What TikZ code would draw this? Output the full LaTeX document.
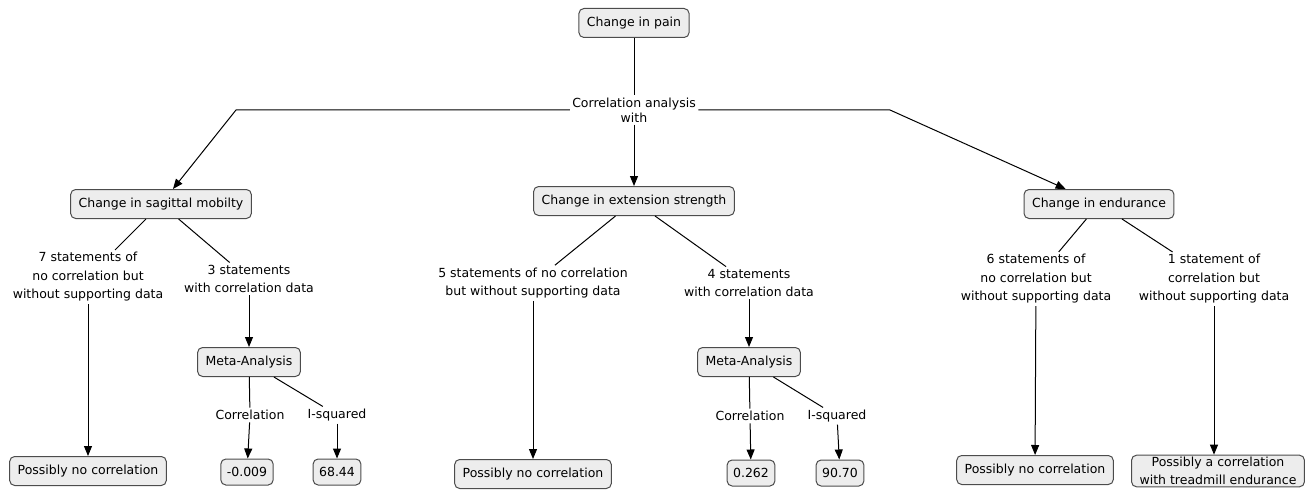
\documentclass[tikz,border=0pt]{standalone}
\usepackage{fontspec}
\setmainfont{DejaVu Sans}
\usetikzlibrary{arrows.meta}

\begin{document}
\begin{tikzpicture}[x=1pt,y=-1pt,line width=1pt,
	>={Triangle[length=10pt,width=8pt]},
	box/.style={draw=black!70,fill=black!7,rounded corners=5pt,inner xsep=8pt,minimum height=29pt,font=\fontsize{12.5}{18}\selectfont},
	lab/.style={align=center,inner sep=2pt,font=\fontsize{12.5}{18.5}\selectfont}]
	\useasboundingbox (0,0) rectangle (1314,492);
	% top of the map
	\node[box] (pain) at (634,23) {Change in pain};
	\node[lab,font=\fontsize{12.5}{15}\selectfont] (corr) at (634,110) {Correlation analysis\\with};
	\coordinate (bendL) at (236,110);
	\coordinate (bendR) at (890,110);
	% second level
	\node[box] (sag) at (161,204) {Change in sagittal mobilty};
	\node[box] (ext) at (634,201) {Change in extension strength};
	\node[box] (endu) at (1099,204) {Change in endurance};
	% statements
	\node[lab] (lab7) at (88,277) {7 statements of\\no correlation but\\without supporting data};
	\node[lab] (lab3) at (249,279) {3 statements\\with correlation data};
	\node[lab] (lab5) at (533,283) {5 statements of no correlation\\but without supporting data};
	\node[lab] (lab4) at (749,283) {4 statements\\with correlation data};
	\node[lab] (lab6) at (1036,279) {6 statements of\\no correlation but\\without supporting data};
	\node[lab] (lab1) at (1214,279) {1 statement of\\correlation but\\without supporting data};
	% meta-analyses
	\node[box] (metaL) at (249,362) {Meta-Analysis};
	\node[box] (metaR) at (749,362) {Meta-Analysis};
	\node[lab] (corrL) at (250,415) {Correlation};
	\node[lab] (isqL) at (337,415) {I-squared};
	\node[lab] (corrR) at (750,416) {Correlation};
	\node[lab] (isqR) at (837,416) {I-squared};
	% results
	\node[box] (pncA) at (88,471) {Possibly no correlation};
	\node[box,inner xsep=6pt,minimum height=26pt] (valA) at (247,472) {-0.009};
	\node[box,inner xsep=6pt,minimum height=26pt] (valB) at (337,472) {68.44};
	\node[box] (pncB) at (533,474) {Possibly no correlation};
	\node[box,inner xsep=6pt,minimum height=26pt] (valC) at (751,473) {0.262};
	\node[box,inner xsep=6pt,minimum height=26pt] (valD) at (840,473) {90.70};
	\node[box] (pncC) at (1035,470) {Possibly no correlation};
	\node[box,align=center,inner ysep=2pt] (pacC) at (1218,471) {Possibly a correlation\\with treadmill endurance};

	\draw (pain) -- (corr);
	\draw[->] (corr.west) -- (bendL) -- (sag);
	\draw[->] (corr.east) -- (bendR) -- (endu);
	\path[->]
	(corr) edge (ext)
	(lab7) edge (pncA)
	(lab3) edge (metaL)
	(lab5) edge (pncB)
	(lab4) edge (metaR)
	(lab6) edge (pncC)
	(lab1.south) edge (lab1.south |- pacC.north)
	(corrL) edge (valA)
	(isqL) edge (valB)
	(corrR) edge (valC)
	(isqR) edge (valD);
	\path
	(sag) edge (lab7) edge (lab3)
	(ext) edge (lab5) edge (lab4)
	(endu) edge (lab6) edge (lab1)
	(metaL) edge (corrL) edge (isqL)
	(metaR) edge (corrR) edge (isqR);
\end{tikzpicture}
\end{document}
